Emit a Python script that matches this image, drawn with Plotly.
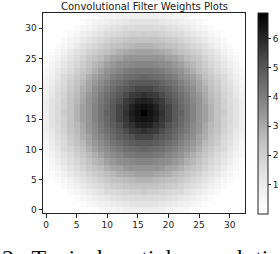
import plotly.graph_objects as go

# x / y cell indices of the 33x33 filter
cells = list(range(33))

# Filter weights, one row per y index (0 = bottom)
weights = [
    [0,0,0,0,0,0,0,0.1,0.2,0.4,0.5,0.6,0.7,0.8,0.9,0.9,0.9,0.9,0.9,0.8,0.7,0.6,0.5,0.4,0.2,0.1,0,0,0,0,0,0,0],
    [0,0,0,0,0,0,0.2,0.4,0.6,0.7,0.9,1.0,1.1,1.2,1.3,1.3,1.3,1.3,1.3,1.2,1.1,1.0,0.9,0.7,0.6,0.4,0.2,0,0,0,0,0,0],
    [0,0,0,0,0,0.3,0.5,0.7,0.9,1.1,1.2,1.4,1.5,1.6,1.6,1.7,1.7,1.7,1.6,1.6,1.5,1.4,1.2,1.1,0.9,0.7,0.5,0.3,0,0,0,0,0],
    [0,0,0,0,0.3,0.5,0.8,1.0,1.2,1.4,1.6,1.7,1.8,1.9,2.0,2.0,2.1,2.0,2.0,1.9,1.8,1.7,1.6,1.4,1.2,1.0,0.8,0.5,0.3,0,0,0,0],
    [0,0,0,0.3,0.6,0.8,1.1,1.3,1.5,1.7,1.9,2.1,2.2,2.3,2.4,2.4,2.4,2.4,2.4,2.3,2.2,2.1,1.9,1.7,1.5,1.3,1.1,0.8,0.6,0.3,0,0,0],
    [0,0,0.3,0.5,0.8,1.1,1.4,1.6,1.8,2.0,2.2,2.4,2.5,2.6,2.7,2.8,2.8,2.8,2.7,2.6,2.5,2.4,2.2,2.0,1.8,1.6,1.4,1.1,0.8,0.5,0.3,0,0],
    [0,0.2,0.5,0.8,1.1,1.4,1.6,1.9,2.1,2.3,2.5,2.7,2.9,3.0,3.1,3.2,3.2,3.2,3.1,3.0,2.9,2.7,2.5,2.3,2.1,1.9,1.6,1.4,1.1,0.8,0.5,0.2,0],
    [0.1,0.4,0.7,1.0,1.3,1.6,1.9,2.2,2.4,2.6,2.9,3.1,3.2,3.4,3.5,3.5,3.5,3.5,3.5,3.4,3.2,3.1,2.9,2.6,2.4,2.2,1.9,1.6,1.3,1.0,0.7,0.4,0.1],
    [0.2,0.6,0.9,1.2,1.5,1.8,2.1,2.4,2.7,2.9,3.2,3.4,3.6,3.7,3.8,3.9,3.9,3.9,3.8,3.7,3.6,3.4,3.2,2.9,2.7,2.4,2.1,1.8,1.5,1.2,0.9,0.6,0.2],
    [0.4,0.7,1.1,1.4,1.7,2.0,2.3,2.6,2.9,3.2,3.5,3.7,3.9,4.1,4.2,4.3,4.3,4.3,4.2,4.1,3.9,3.7,3.5,3.2,2.9,2.6,2.3,2.0,1.7,1.4,1.1,0.7,0.4],
    [0.5,0.9,1.2,1.6,1.9,2.2,2.5,2.9,3.2,3.5,3.7,4.0,4.2,4.4,4.5,4.6,4.7,4.6,4.5,4.4,4.2,4.0,3.7,3.5,3.2,2.9,2.5,2.2,1.9,1.6,1.2,0.9,0.5],
    [0.6,1.0,1.4,1.7,2.1,2.4,2.7,3.1,3.4,3.7,4.0,4.3,4.5,4.7,4.9,5.0,5.0,5.0,4.9,4.7,4.5,4.3,4.0,3.7,3.4,3.1,2.7,2.4,2.1,1.7,1.4,1.0,0.6],
    [0.7,1.1,1.5,1.8,2.2,2.5,2.9,3.2,3.6,3.9,4.2,4.5,4.8,5.0,5.2,5.4,5.4,5.4,5.2,5.0,4.8,4.5,4.2,3.9,3.6,3.2,2.9,2.5,2.2,1.8,1.5,1.1,0.7],
    [0.8,1.2,1.6,1.9,2.3,2.6,3.0,3.4,3.7,4.1,4.4,4.7,5.0,5.3,5.6,5.7,5.8,5.7,5.6,5.3,5.0,4.7,4.4,4.1,3.7,3.4,3.0,2.6,2.3,1.9,1.6,1.2,0.8],
    [0.9,1.3,1.6,2.0,2.4,2.7,3.1,3.5,3.8,4.2,4.5,4.9,5.2,5.6,5.8,6.1,6.2,6.1,5.8,5.6,5.2,4.9,4.5,4.2,3.8,3.5,3.1,2.7,2.4,2.0,1.6,1.3,0.9],
    [0.9,1.3,1.7,2.0,2.4,2.8,3.2,3.5,3.9,4.3,4.6,5.0,5.4,5.7,6.1,6.4,6.5,6.4,6.1,5.7,5.4,5.0,4.6,4.3,3.9,3.5,3.2,2.8,2.4,2.0,1.7,1.3,0.9],
    [0.9,1.3,1.7,2.1,2.4,2.8,3.2,3.5,3.9,4.3,4.7,5.0,5.4,5.8,6.2,6.5,6.9,6.5,6.2,5.8,5.4,5.0,4.7,4.3,3.9,3.5,3.2,2.8,2.4,2.1,1.7,1.3,0.9],
    [0.9,1.3,1.7,2.0,2.4,2.8,3.2,3.5,3.9,4.3,4.6,5.0,5.4,5.7,6.1,6.4,6.5,6.4,6.1,5.7,5.4,5.0,4.6,4.3,3.9,3.5,3.2,2.8,2.4,2.0,1.7,1.3,0.9],
    [0.9,1.3,1.6,2.0,2.4,2.7,3.1,3.5,3.8,4.2,4.5,4.9,5.2,5.6,5.8,6.1,6.2,6.1,5.8,5.6,5.2,4.9,4.5,4.2,3.8,3.5,3.1,2.7,2.4,2.0,1.6,1.3,0.9],
    [0.8,1.2,1.6,1.9,2.3,2.6,3.0,3.4,3.7,4.1,4.4,4.7,5.0,5.3,5.6,5.7,5.8,5.7,5.6,5.3,5.0,4.7,4.4,4.1,3.7,3.4,3.0,2.6,2.3,1.9,1.6,1.2,0.8],
    [0.7,1.1,1.5,1.8,2.2,2.5,2.9,3.2,3.6,3.9,4.2,4.5,4.8,5.0,5.2,5.4,5.4,5.4,5.2,5.0,4.8,4.5,4.2,3.9,3.6,3.2,2.9,2.5,2.2,1.8,1.5,1.1,0.7],
    [0.6,1.0,1.4,1.7,2.1,2.4,2.7,3.1,3.4,3.7,4.0,4.3,4.5,4.7,4.9,5.0,5.0,5.0,4.9,4.7,4.5,4.3,4.0,3.7,3.4,3.1,2.7,2.4,2.1,1.7,1.4,1.0,0.6],
    [0.5,0.9,1.2,1.6,1.9,2.2,2.5,2.9,3.2,3.5,3.7,4.0,4.2,4.4,4.5,4.6,4.7,4.6,4.5,4.4,4.2,4.0,3.7,3.5,3.2,2.9,2.5,2.2,1.9,1.6,1.2,0.9,0.5],
    [0.4,0.7,1.1,1.4,1.7,2.0,2.3,2.6,2.9,3.2,3.5,3.7,3.9,4.1,4.2,4.3,4.3,4.3,4.2,4.1,3.9,3.7,3.5,3.2,2.9,2.6,2.3,2.0,1.7,1.4,1.1,0.7,0.4],
    [0.2,0.6,0.9,1.2,1.5,1.8,2.1,2.4,2.7,2.9,3.2,3.4,3.6,3.7,3.8,3.9,3.9,3.9,3.8,3.7,3.6,3.4,3.2,2.9,2.7,2.4,2.1,1.8,1.5,1.2,0.9,0.6,0.2],
    [0.1,0.4,0.7,1.0,1.3,1.6,1.9,2.2,2.4,2.6,2.9,3.1,3.2,3.4,3.5,3.5,3.5,3.5,3.5,3.4,3.2,3.1,2.9,2.6,2.4,2.2,1.9,1.6,1.3,1.0,0.7,0.4,0.1],
    [0,0.2,0.5,0.8,1.1,1.4,1.6,1.9,2.1,2.3,2.5,2.7,2.9,3.0,3.1,3.2,3.2,3.2,3.1,3.0,2.9,2.7,2.5,2.3,2.1,1.9,1.6,1.4,1.1,0.8,0.5,0.2,0],
    [0,0,0.3,0.5,0.8,1.1,1.4,1.6,1.8,2.0,2.2,2.4,2.5,2.6,2.7,2.8,2.8,2.8,2.7,2.6,2.5,2.4,2.2,2.0,1.8,1.6,1.4,1.1,0.8,0.5,0.3,0,0],
    [0,0,0,0.3,0.6,0.8,1.1,1.3,1.5,1.7,1.9,2.1,2.2,2.3,2.4,2.4,2.4,2.4,2.4,2.3,2.2,2.1,1.9,1.7,1.5,1.3,1.1,0.8,0.6,0.3,0,0,0],
    [0,0,0,0,0.3,0.5,0.8,1.0,1.2,1.4,1.6,1.7,1.8,1.9,2.0,2.0,2.1,2.0,2.0,1.9,1.8,1.7,1.6,1.4,1.2,1.0,0.8,0.5,0.3,0,0,0,0],
    [0,0,0,0,0,0.3,0.5,0.7,0.9,1.1,1.2,1.4,1.5,1.6,1.6,1.7,1.7,1.7,1.6,1.6,1.5,1.4,1.2,1.1,0.9,0.7,0.5,0.3,0,0,0,0,0],
    [0,0,0,0,0,0,0.2,0.4,0.6,0.7,0.9,1.0,1.1,1.2,1.3,1.3,1.3,1.3,1.3,1.2,1.1,1.0,0.9,0.7,0.6,0.4,0.2,0,0,0,0,0,0],
    [0,0,0,0,0,0,0,0.1,0.2,0.4,0.5,0.6,0.7,0.8,0.9,0.9,0.9,0.9,0.9,0.8,0.7,0.6,0.5,0.4,0.2,0.1,0,0,0,0,0,0,0],
]

axis_ticks = [0, 5, 10, 15, 20, 25, 30]
colorbar_ticks = [1, 2, 3, 4, 5, 6]

greys = [
    [0.0, "#ffffff"], [0.125, "#f0f0f0"], [0.25, "#d9d9d9"], [0.375, "#bdbdbd"],
    [0.5, "#969696"], [0.625, "#737373"], [0.75, "#525252"], [0.875, "#252525"],
    [1.0, "#000000"],
]

W, H = 280, 254
L, R, T, B = 43, 35, 13, 41
plot_w = W - L - R
plot_h = H - T - B

fig = go.Figure(go.Heatmap(
    z=weights, x=cells, y=cells,
    colorscale=greys, zmin=0, zmax=6.9,
    colorbar=dict(
        x=(258 - L) / plot_w, xanchor="left", xpad=0,
        y=0.5, yanchor="middle", ypad=0,
        len=201, lenmode="pixels",
        thickness=10, thicknessmode="pixels",
        outlinewidth=1, outlinecolor="#222",
        tickvals=colorbar_ticks, ticks="outside", ticklen=3, tickwidth=1,
        tickcolor="#222",
        tickfont=dict(family="DejaVu Sans", size=9, color="#222"),
    ),
))

axis_style = dict(
    range=[-0.5, 32.5], tickvals=axis_ticks, ticks="outside", ticklen=3.5,
    tickwidth=1, tickcolor="#222", showline=True, linewidth=1,
    linecolor="#222", mirror=True, showgrid=False, zeroline=False,
    tickfont=dict(family="DejaVu Sans", size=9, color="#222"),
)

fig.update_layout(
    width=W, height=H,
    margin=dict(l=L, r=R, t=T, b=B, pad=0, autoexpand=False),
    paper_bgcolor="white", plot_bgcolor="white",
    xaxis=dict(**axis_style),
    yaxis=dict(**axis_style),
    showlegend=False,
    annotations=[
        dict(text="Convolutional Filter Weights Plots", xref="paper",
             yref="paper", x=0.5, y=1 + 7 / plot_h, xanchor="center",
             yanchor="middle", showarrow=False,
             font=dict(family="DejaVu Sans", size=10, color="#222")),
        dict(text="2.  Typical spatial convolution", xref="paper",
             yref="paper", x=-L / plot_w, y=-(243 - (H - B)) / plot_h,
             xanchor="left", yanchor="top", showarrow=False,
             font=dict(family="Liberation Serif", size=24, color="#111")),
    ],
)

fig.write_html(
    "out.html",
    config={"displayModeBar": False},
    post_script="document.body.style.margin='0';document.body.style.overflow='hidden';",
)
